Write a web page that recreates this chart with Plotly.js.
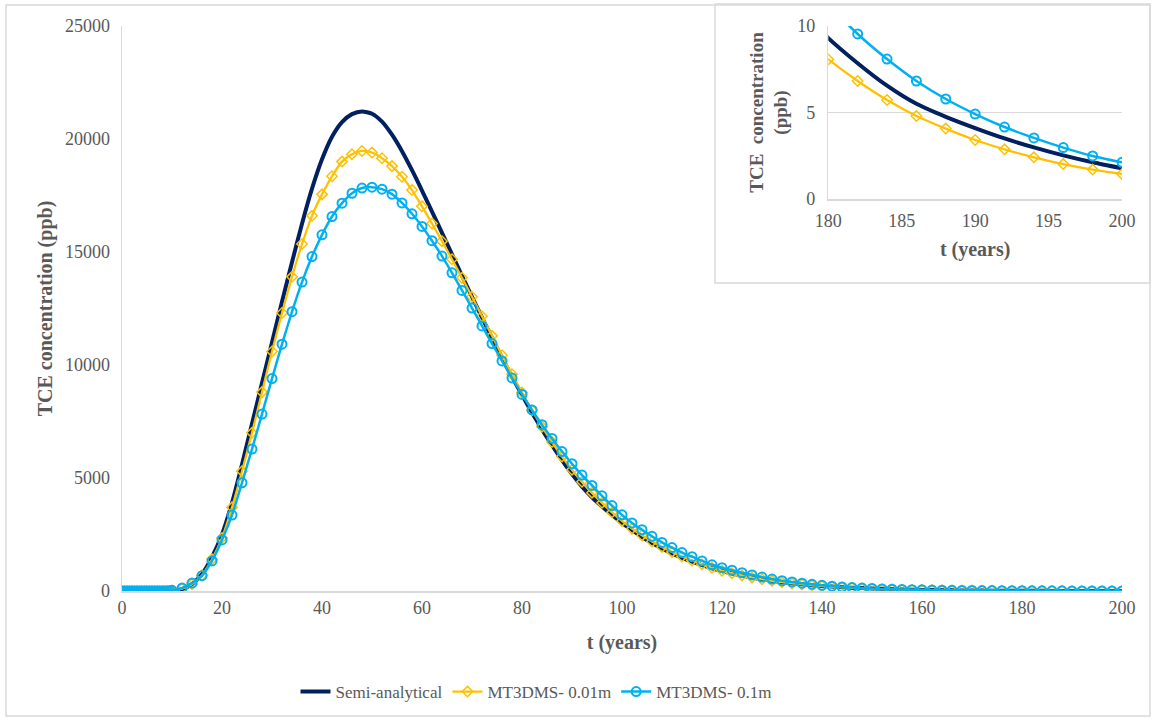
<!DOCTYPE html>
<html>
<head>
<meta charset="utf-8">
<script src="https://cdn.plot.ly/plotly-3.0.1.min.js"></script>
<style>html,body{margin:0;padding:0;background:#fff;}#chart{width:1153px;height:719px;}</style>
</head>
<body>
<div id="chart"></div>
<script>
// time (years) for the semi-analytical solution
const tSemi = [0,2,4,6,8,10,12,14,16,18,20,22,24,26,28,30,32,34,36,38,40,42,44,46,48,50,52,54,56,58,60,62,64,66,68,70,72,74,76,78,80,82,84,86,88,90,92,94,96,98,100,102,104,106,108,110,112,114,116,118,120,122,124,126,128,130,132,134,136,138,140,142,144,146,148,150,152,154,156,158,160,162,164,166,168,170,172,174,176,178,180,182,184,186,188,190,192,194,196,198,200];
const semiAnalytical = [0,0,0,0,0,10,80,300,750,1500,2500,3900,5600,7400,9200,11000,12800,14550,16250,17800,19100,20100,20750,21100,21220,21120,20770,20190,19460,18620,17720,16790,15850,14900,13950,13020,12100,11200,10320,9480,8670,7890,7150,6450,5790,5170,4620,4150,3740,3360,3010,2690,2390,2120,1880,1660,1470,1300,1145,1005,885,775,678,593,518,452,393,342,297,258,224,194,168,146,128,112,95,80,68,58,49,41.5,35,30,25,21.3,18,15.3,12.9,11,9.3,7.85,6.55,5.5,4.75,4.1,3.5,2.98,2.52,2.12,1.77];

// time (years) for the MT3DMS results
const tMT = [0,0.5,1,1.5,2,2.5,3,3.5,4,4.5,5,5.5,6,6.5,7,7.5,8,8.5,9,9.5,10,12,14,16,18,20,22,24,26,28,30,32,34,36,38,40,42,44,46,48,50,52,54,56,58,60,62,64,66,68,70,72,74,76,78,80,82,84,86,88,90,92,94,96,98,100,102,104,106,108,110,112,114,116,118,120,122,124,126,128,130,132,134,136,138,140,142,144,146,148,150,152,154,156,158,160,162,164,166,168,170,172,174,176,178,180,182,184,186,188,190,192,194,196,198,200];
const mt001 = [0,0,0,0,0,0,0,0,0,0,0,0,0,0,0,0,0,0,0,5,15,100,300,700,1400,2350,3700,5300,7000,8800,10600,12300,13900,15350,16600,17550,18350,19000,19330,19470,19400,19150,18800,18330,17740,17020,16260,15480,14680,13860,13020,12160,11290,10430,9590,8780,8000,7270,6590,5950,5360,4830,4350,3900,3480,3100,2760,2460,2190,1950,1730,1530,1350,1180,1030,900,790,690,600,520,450,390,335,290,250,215,183,157,134,114,96,81,69,58,49,42,35.5,30,25.6,21.7,18.4,15.6,13.2,11.2,9.5,8.07,6.82,5.72,4.80,4.07,3.41,2.87,2.41,2.02,1.70,1.45];
const mt01 = [0,0,0,0,0,0,0,0,0,0,0,0,0,0,0,0,0,0,0,10,30,130,350,680,1330,2260,3360,4790,6280,7830,9400,10920,12360,13670,14800,15760,16570,17160,17600,17830,17870,17780,17560,17170,16690,16130,15500,14820,14080,13300,12520,11730,10950,10180,9430,8700,8010,7360,6750,6170,5630,5130,4670,4210,3780,3370,3010,2710,2420,2150,1920,1700,1520,1330,1160,1030,920,810,710,615,530,458,400,345,295,250,212,180,153,130,110,94,80,68,58,50,43,37,32,27.5,24,20.8,18,15.5,13.2,11.25,9.54,8.09,6.82,5.78,4.91,4.16,3.53,2.97,2.49,2.12];

const seriesNames = ['Semi-analytical','MT3DMS- 0.01m','MT3DMS- 0.1m'];
const xTickLabels = ['0','20','40','60','80','100','120','140','160','180','200'];
const yTickLabels = ['0','5000','10000','15000','20000','25000'];
const xInsetTicks = ['180','185','190','195','200'];
const yInsetTicks = ['0','5','10'];

const NAVY = '#002060', GOLD = '#FFC000', CYAN = '#00B0F0';
const SERIF = '"Liberation Serif", "Times New Roman", Times, serif';
const GREY = '#595959';

function traces(xa, ya, legend) {
  return [
    {x: tSemi, y: semiAnalytical, name: seriesNames[0], xaxis: xa, yaxis: ya, showlegend: legend,
     mode: 'lines', line: {color: NAVY, width: 4, shape: 'spline', smoothing: 0.6}},
    {x: tMT, y: mt001, name: seriesNames[1], xaxis: xa, yaxis: ya, showlegend: legend,
     mode: 'lines+markers', line: {color: GOLD, width: 2.25, shape: 'spline', smoothing: 0.6},
     marker: {symbol: 'diamond-open', size: 8, color: GOLD, line: {width: 1.5, color: GOLD}}},
    {x: tMT, y: mt01, name: seriesNames[2], xaxis: xa, yaxis: ya, showlegend: legend,
     mode: 'lines+markers', line: {color: CYAN, width: 2.5, shape: 'spline', smoothing: 0.6},
     marker: {symbol: 'circle-open', size: 9, color: CYAN, line: {width: 2, color: CYAN}}}
  ];
}

const data = traces('x', 'y', true).concat(traces('x2', 'y2', false));

// paper region: x 122..1122 px, y 26..719 px
const px = v => (v - 122) / 1000;
const py = v => (719 - v) / 693;

const layout = {
  width: 1153, height: 719,
  margin: {l: 122, r: 31, t: 26, b: 0},
  paper_bgcolor: '#ffffff', plot_bgcolor: 'rgba(0,0,0,0)',
  font: {family: SERIF, color: GREY, size: 18},
  showlegend: true,
  legend: {orientation: 'h', x: px(536), xanchor: 'center', y: py(692), yanchor: 'middle',
           font: {family: SERIF, size: 17, color: GREY}, itemwidth: 30, tracegroupgap: 0,
           bgcolor: 'rgba(0,0,0,0)'},
  xaxis: {domain: [0, 1], range: [0, 200], tickvals: xTickLabels.map(Number), ticktext: xTickLabels,
          showgrid: false, zeroline: false, showline: true, linecolor: '#d9d9d9', linewidth: 1.5,
          ticks: '', tickfont: {family: SERIF, size: 18, color: GREY}, fixedrange: true,
          title: {text: '<b>t (years)</b>', font: {family: SERIF, size: 20, color: GREY}, standoff: 18}},
  yaxis: {domain: [py(591), 1], range: [0, 25000], tickvals: yTickLabels.map(Number), ticktext: yTickLabels,
          showgrid: false, zeroline: false, showline: true, linecolor: '#d9d9d9', linewidth: 1.5,
          ticks: '', ticklabelstandoff: 7, tickfont: {family: SERIF, size: 18, color: GREY},
          title: {text: '<b>TCE concentration (ppb)</b>', font: {family: SERIF, size: 20, color: GREY}, standoff: 7}},
  xaxis2: {domain: [px(828.3), px(1122.3)], anchor: 'y2', range: [180, 200],
           tickvals: xInsetTicks.map(Number), ticktext: xInsetTicks,
           showgrid: false, zeroline: false, showline: true, linecolor: '#d9d9d9', linewidth: 1.5,
           ticks: '', ticklabelstandoff: 5, tickfont: {family: SERIF, size: 18, color: GREY},
           title: {text: '<b>t (years)</b>', font: {family: SERIF, size: 20, color: GREY}, standoff: 12}},
  yaxis2: {domain: [py(199), 1], anchor: 'x2', range: [0, 10],
           tickvals: yInsetTicks.map(Number), ticktext: yInsetTicks,
           showgrid: true, gridcolor: '#d9d9d9', gridwidth: 1.5, zeroline: false,
           showline: true, linecolor: '#d9d9d9', linewidth: 1.5,
           ticks: '', ticklabelstandoff: 8, tickfont: {family: SERIF, size: 18, color: GREY},
           title: {text: '<b>TCE  concentration<br>(ppb)</b>', font: {family: SERIF, size: 19, color: GREY}, standoff: 4}},
  shapes: [
    {type: 'rect', xref: 'paper', yref: 'paper', x0: px(6), x1: px(1150), y0: py(716), y1: py(5),
     line: {color: '#d9d9d9', width: 1.5}, fillcolor: 'rgba(0,0,0,0)', layer: 'below'},
    {type: 'rect', xref: 'paper', yref: 'paper', x0: px(715), x1: px(1150), y0: py(283), y1: py(4),
     line: {color: '#d9d9d9', width: 1.5}, fillcolor: 'rgba(0,0,0,0)', layer: 'below'}
  ]
};

Plotly.newPlot('chart', data, layout, {displayModeBar: false, staticPlot: true});
</script>
</body>
</html>
